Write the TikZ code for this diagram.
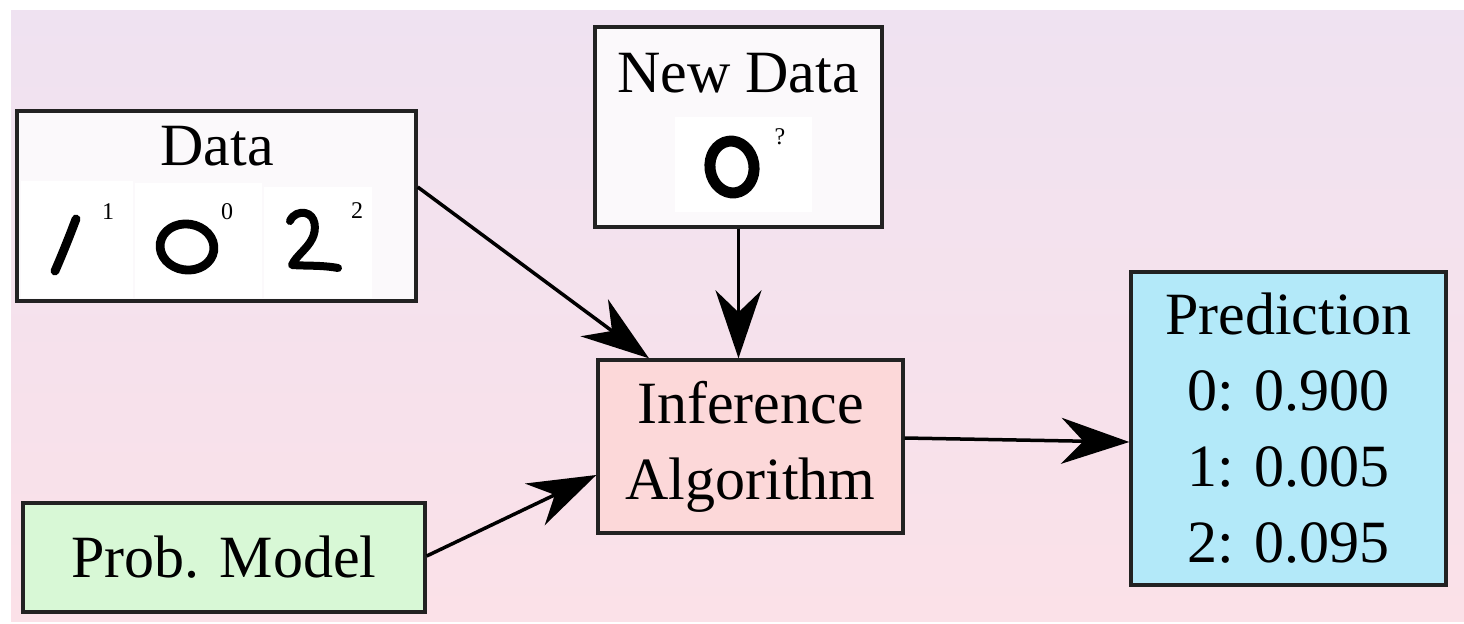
\documentclass[tikz,border=0pt]{standalone}
\usepackage{fontspec}
\setmainfont{Liberation Serif}
\usetikzlibrary{arrows.meta}
\definecolor{bgtop}{HTML}{EFE2F1}
\definecolor{bgbot}{HTML}{FBE1E8}
\definecolor{boxline}{HTML}{222222}
\definecolor{modelfill}{HTML}{D8F8D6}
\definecolor{inffill}{HTML}{FCD8D9}
\definecolor{predfill}{HTML}{B3E9F9}
\definecolor{datafill}{HTML}{FBF9FB}
\tikzset{
  box/.style={draw=boxline, line width=1.7pt, inner sep=0pt, align=center,
    font=\fontsize{30pt}{38pt}\selectfont},
  title/.style={anchor=base, inner sep=0pt, font=\fontsize{30pt}{38pt}\selectfont},
  sup/.style={inner sep=0pt, font=\fontsize{12pt}{14pt}\selectfont},
  digit/.style={line width=4pt, line cap=round, line join=round, black},
  arr/.style={line width=1.75pt, -{Stealth[length=34pt,width=23pt,inset=11pt]}}
}
\begin{document}
\begin{tikzpicture}[x=0.5pt,y=-0.5pt]
\useasboundingbox (0,0) rectangle (1464,623);
\fill[top color=bgtop, bottom color=bgbot] (11,10) rectangle (1464,621);

% boxes
\node[box, fill=datafill, minimum width=199.5pt, minimum height=95pt] (data) at (216.5,206) {};
\node[box, fill=datafill, minimum width=143.5pt, minimum height=100pt] (newdata) at (738.5,127) {};
\node[box, fill=modelfill, minimum width=201pt, minimum height=54.5pt] (model) at (224,557.5) {Prob. Model};
\node[box, fill=inffill, minimum width=152.5pt, minimum height=86.5pt] (inf) at (750.5,446.5) {Inference\\Algorithm};
\node[box, fill=predfill, minimum width=157.5pt, minimum height=156.5pt] (pred) at (1288.5,428.5) {Prediction\\0: 0.900\\1: 0.005\\2: 0.095};

% image squares
\fill[white] (21,181) rectangle (133,298);
\fill[white] (135,183) rectangle (262,298);
\fill[white] (264,187) rectangle (372,298);
\fill[white] (675,117) rectangle (812,212);

% titles
\node[title] (datatitle) at (217,165) {Data};
\node[title] (newdatatitle) at (738,92) {New Data};

% handwritten digits
\draw[digit, line width=4.4pt] (55,271) .. controls (62,255) and (70,235) .. (76,219);
\draw[digit, line width=4.4pt, rotate around={-8:(187,247)}] (187,247) ellipse [x radius=27, y radius=23];
\draw[digit, line width=4pt] (290,221) .. controls (293,214) and (300,212) .. (305,213)
  .. controls (316,215) and (317,230) .. (312,239)
  .. controls (307,249) and (296,256) .. (292,265)
  .. controls (305,266) and (322,265) .. (338,268);
\draw[digit, line width=5.5pt, rotate around={8:(732,167)}] (732,167) ellipse [x radius=22, y radius=26];

% superscript labels
\node[sup] (l1) at (108,212) {1};
\node[sup] (l0) at (227,212) {0};
\node[sup] (l2) at (357,211) {2};
\node[sup] (lq) at (780,137) {?};

% connectors
\draw[arr] ([yshift=9.5pt]data.east) -- ([xshift=-50.75pt]inf.north);
\draw[arr] (newdata.south) -- (newdata.south |- inf.north);
\draw[arr] ([yshift=0.75pt]model.east) -- ([yshift=-14.25pt]inf.west);
\draw[arr] ([yshift=4.25pt]inf.east) -- ([yshift=-6.75pt]pred.west);
\end{tikzpicture}
\end{document}
